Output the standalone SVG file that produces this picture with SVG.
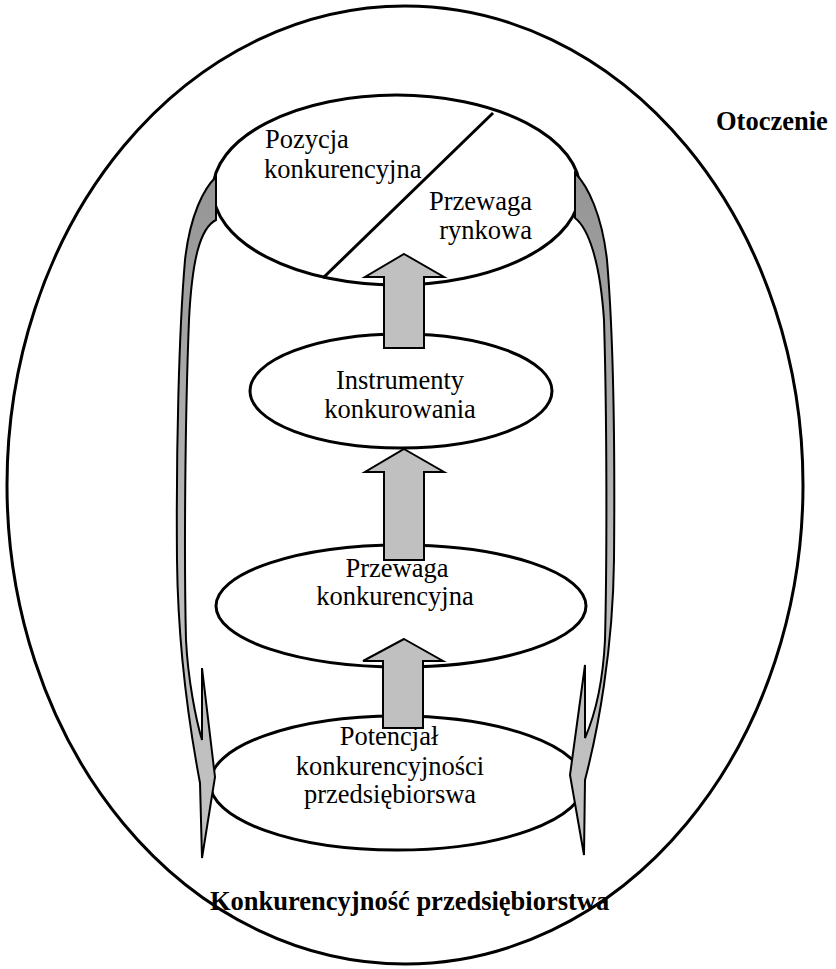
<svg xmlns="http://www.w3.org/2000/svg" width="836" height="969" viewBox="0 0 836 969">
<style>
.ell{fill:none;stroke:#000;stroke-width:3}
.ellw{fill:#fff;stroke:#000;stroke-width:3}
.t{font-family:"Liberation Serif","Times New Roman",serif;font-size:26.5px;fill:#000}
.b{font-weight:bold}
.m{text-anchor:middle}
.blk{fill:#c0c0c0;stroke:#000;stroke-width:2;stroke-linejoin:miter}
.band{fill:url(#g);stroke:#000;stroke-width:2;stroke-linejoin:miter}
.ln{stroke:#000;stroke-width:3;fill:none}
</style>
<defs>
<linearGradient id="g" gradientUnits="userSpaceOnUse" x1="0" y1="170" x2="0" y2="860">
<stop offset="0" stop-color="#949494"/>
<stop offset="0.6" stop-color="#bcbcbc"/>
<stop offset="1" stop-color="#c2c2c2"/>
</linearGradient>
</defs>
<rect width="836" height="969" fill="#fff"/>
<g id="otoczenie">
<ellipse class="ell" cx="405" cy="485" rx="398" ry="479"/>
<text class="t b" x="716" y="130">Otoczenie</text>
</g>
<g id="konkurencyjnosc">
<text class="t b" x="210" y="910">Konkurencyjność przedsiębiorstwa</text>
</g>
<g id="pozycja">
<ellipse class="ellw" cx="396.5" cy="190" rx="183.5" ry="95"/>
<line class="ln" x1="493" y1="113" x2="323" y2="278"/>
<text class="t" x="265" y="148">Pozycja</text>
<text class="t" x="264" y="178">konkurencyjna</text>
<text class="t" x="532" y="210" text-anchor="end">Przewaga</text>
<text class="t" x="532" y="239" text-anchor="end">rynkowa</text>
</g>
<g id="instrumenty">
<ellipse class="ellw" cx="401" cy="391" rx="151" ry="57"/>
<text class="t m" x="400" y="389">Instrumenty</text>
<text class="t m" x="400" y="418">konkurowania</text>
</g>
<g id="przewaga">
<ellipse class="ellw" cx="401" cy="606" rx="185" ry="61"/>
<text class="t m" x="397" y="577">Przewaga</text>
<text class="t m" x="395" y="605">konkurencyjna</text>
</g>
<g id="potencjal">
<ellipse class="ellw" cx="397" cy="783" rx="187" ry="67"/>
<text class="t m" x="389" y="745">Potencjał</text>
<text class="t m" x="390" y="775">konkurencyjności</text>
<text class="t m" x="390" y="803">przedsiębiorswa</text>
</g>
<g id="connectors">
<path class="band" d="M216,177 C204,188 190,215 185,260 C179,330 176,450 177,560 C178,650 190,730 200,783 L202,858 L215,777 L202,668 L202,740 C196,720 188,680 186,640 C184,560 185,420 189,320 C192,260 200,228 216,220 Z"/>
<path class="band" d="M575,173 C588,186 602,215 607,260 C613,330 615,450 614,560 C613,650 598,730 585,780 L584,855 L570,775 L585,665 L585,738 C595,715 603,680 605,640 C607,560 607,420 604,320 C600,260 588,228 575,218 Z"/>
<path class="blk" d="M404,254 L444,277 L424,277 L424,348 L384,348 L384,277 L365,277 Z"/>
<path class="blk" d="M404,449 L444,472 L424,472 L424,560 L384,560 L384,472 L365,472 Z"/>
<path class="blk" d="M404,639 L443,661 L423,661 L423,728 L383,728 L383,661 L363,661 Z"/>
</g>
</svg>
